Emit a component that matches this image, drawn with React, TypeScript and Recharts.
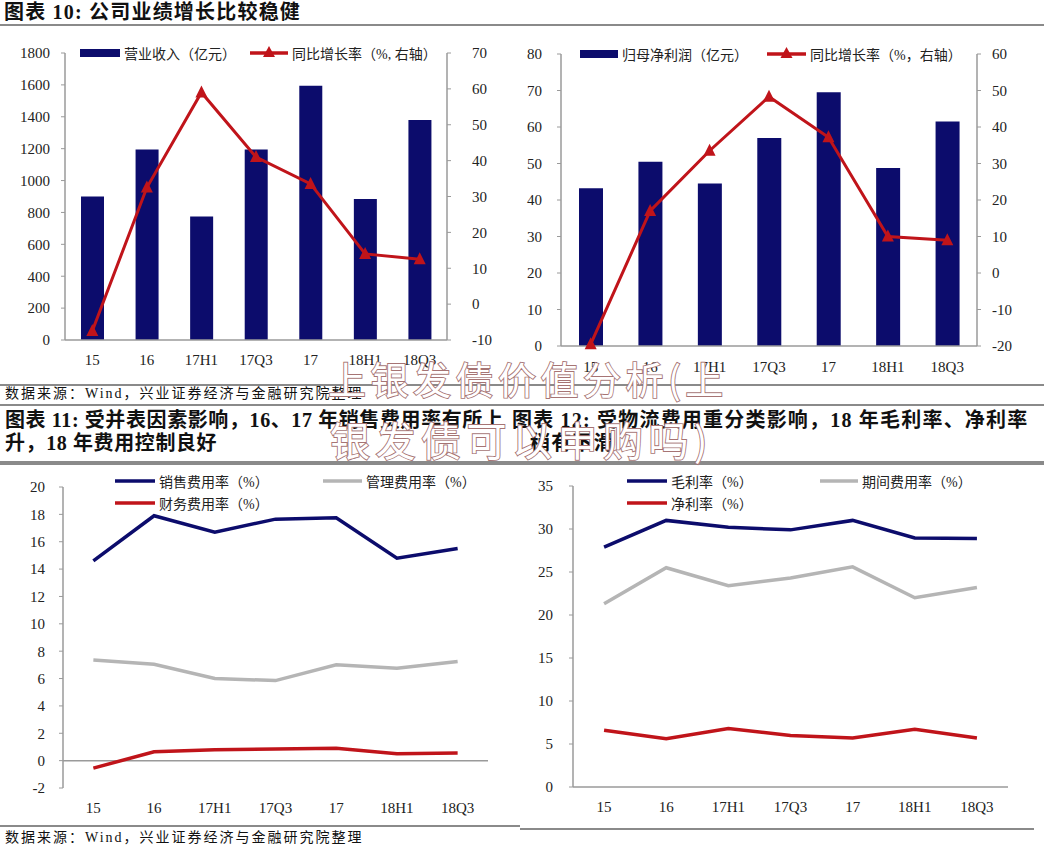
import React from 'react';
import {
  ComposedChart,
  Bar,
  Line,
  XAxis,
  YAxis,
  ReferenceLine,
} from 'recharts';

// categories
const periods = ['15', '16', '17H1', '17Q3', '17', '18H1', '18Q3'];

// 图表10 左: 营业收入 + 同比
const revenue = [900, 1195, 775, 1195, 1595, 885, 1380];
const revenueYoy = [-7.5, 32.5, 59, 41, 33.5, 14, 12.5];

// 图表10 右: 归母净利润 + 同比
const netProfit = [43.2, 50.5, 44.5, 57, 69.5, 48.8, 61.5];
const netProfitYoy = [-19.5, 17, 33.5, 48.3, 37.2, 10, 9];

// 图表11: 费用率
const sellingRate = [14.6, 17.9, 16.7, 17.65, 17.75, 14.8, 15.5];
const adminRate = [7.35, 7.05, 6.0, 5.85, 7.0, 6.75, 7.25];
const financeRate = [-0.55, 0.65, 0.8, 0.85, 0.9, 0.5, 0.55];

// 图表12: 利润率
const grossMargin = [27.9, 31.0, 30.2, 29.9, 31.0, 28.95, 28.9];
const periodExpenseRate = [21.3, 25.5, 23.4, 24.3, 25.6, 22.0, 23.2];
const netMargin = [6.6, 5.6, 6.8, 6.0, 5.7, 6.7, 5.7];

// tick labels
const revenueTicks = [0, 200, 400, 600, 800, 1000, 1200, 1400, 1600, 1800];
const revenueYoyTicks = [-10, 0, 10, 20, 30, 40, 50, 60, 70];
const profitTicks = [0, 10, 20, 30, 40, 50, 60, 70, 80];
const profitYoyTicks = [-20, -10, 0, 10, 20, 30, 40, 50, 60];
const expenseTicks = [-2, 0, 2, 4, 6, 8, 10, 12, 14, 16, 18, 20];
const marginTicks = [0, 5, 10, 15, 20, 25, 30, 35];
const bandEdges = [0, 1, 2, 3, 4, 5, 6, 7];

const NAVY = '#0c0c6c';
const RED = '#c0141a';
const GRAY = '#b5b5b5';
const AXIS = '#9a9a9a';
const RULE = '#8a8a8a';
const FONT = "'Liberation Serif', 'Noto Sans CJK SC', serif";
const tickStyle = { fontSize: 15, fill: '#222', fontFamily: FONT };

const revData = periods.map((p, i) => ({ period: p, revenue: revenue[i], yoy: revenueYoy[i] }));
const profitData = periods.map((p, i) => ({ period: p, profit: netProfit[i], yoy: netProfitYoy[i] }));
const expenseData = periods.map((p, i) => ({
  period: p,
  selling: sellingRate[i],
  admin: adminRate[i],
  finance: financeRate[i],
}));
const marginData = periods.map((p, i) => ({
  period: p,
  gross: grossMargin[i],
  expense: periodExpenseRate[i],
  net: netMargin[i],
}));

const Triangle = (props: any) => {
  const { cx, cy, index } = props;
  if (cx == null || cy == null) return null;
  return (
    <polygon
      key={`tri-${index}`}
      points={`${cx},${cy - 7} ${cx - 6},${cy + 5} ${cx + 6},${cy + 5}`}
      fill={RED}
    />
  );
};

function LegendItem({ x, y, kind, color, label, width = 40 }: any) {
  return (
    <div style={{ position: 'absolute', left: x, top: y - 10, height: 20, display: 'flex', alignItems: 'center' }}>
      <svg width={width} height={20} style={{ display: 'block' }}>
        {kind === 'bar' && <rect x={0} y={6} width={width} height={8} fill={NAVY} />}
        {kind !== 'bar' && <line x1={0} y1={10} x2={width} y2={10} stroke={color} strokeWidth={3.5} />}
        {kind === 'tri' && (
          <polygon points={`${width / 2},3 ${width / 2 - 6},14 ${width / 2 + 6},14`} fill={RED} />
        )}
      </svg>
      <span style={{ marginLeft: 4, fontSize: 14, color: '#222', fontFamily: FONT, whiteSpace: 'nowrap' }}>{label}</span>
    </div>
  );
}

function Rule({ top, left = 0, width = 1044 }: any) {
  return <div style={{ position: 'absolute', top, left, width, height: 2, background: RULE }} />;
}

function Text({ x, y, size, bold, children, spacing = 0 }: any) {
  return (
    <div
      style={{
        position: 'absolute',
        left: x,
        top: y - size * 0.7,
        fontSize: size,
        lineHeight: `${size * 1.4}px`,
        fontWeight: bold ? 700 : 400,
        letterSpacing: spacing,
        color: '#111',
        fontFamily: FONT,
        whiteSpace: 'nowrap',
      }}
    >
      {children}
    </div>
  );
}

// small ticks between categories, pointing up into the plot
const edgeAxis = (
  <XAxis
    xAxisId="edge"
    type="number"
    domain={[0, 7]}
    allowDataOverflow
    ticks={bandEdges}
    tick={false}
    mirror
    tickSize={5}
    tickLine={{ stroke: AXIS }}
    axisLine={false}
    height={1}
  />
);

export default function App() {
  return (
    <div style={{ position: 'absolute', left: 0, top: 0, width: 1044, height: 854, background: '#fff', overflow: 'hidden' }}>
      <Text x={4} y={12} size={20} bold spacing={1.2}>图表 10: 公司业绩增长比较稳健</Text>
      <Rule top={24} />

      {/* 图表10 左 */}
      <div style={{ position: 'absolute', left: 0, top: 30 }}>
        <ComposedChart width={520} height={360} data={revData} margin={{ top: 23, right: 28, left: 10, bottom: 49 }}>
          <XAxis xAxisId="cat" dataKey="period" height={1} interval={0} tickSize={0} tickMargin={14} tick={tickStyle} axisLine={{ stroke: AXIS, strokeWidth: 1.5 }} tickLine={false} />
          {edgeAxis}
          <YAxis yAxisId="left" domain={[0, 1800]} ticks={revenueTicks} width={55} tickSize={4} tickMargin={11} tick={tickStyle} axisLine={{ stroke: AXIS, strokeWidth: 1.5 }} tickLine={{ stroke: AXIS }} />
          <YAxis yAxisId="right" orientation="right" domain={[-10, 70]} ticks={revenueYoyTicks} width={45} tickSize={4} tickMargin={21} tick={tickStyle} axisLine={{ stroke: AXIS, strokeWidth: 1.5 }} tickLine={{ stroke: AXIS }} />
          <Bar xAxisId="cat" yAxisId="left" dataKey="revenue" fill={NAVY} barSize={23} isAnimationActive={false} />
          <Line xAxisId="cat" yAxisId="right" dataKey="yoy" stroke={RED} strokeWidth={3} dot={Triangle} isAnimationActive={false} />
        </ComposedChart>
      </div>
      <LegendItem x={80} y={53} kind="bar" label="营业收入（亿元）" />
      <LegendItem x={250} y={53} kind="tri" color={RED} width={38} label="同比增长率（%, 右轴）" />

      {/* 图表10 右 */}
      <div style={{ position: 'absolute', left: 520, top: 30 }}>
        <ComposedChart width={524} height={360} data={profitData} margin={{ top: 24, right: 22, left: 6, bottom: 43 }}>
          <XAxis xAxisId="cat" dataKey="period" height={1} interval={0} tickSize={0} tickMargin={15} tick={tickStyle} axisLine={{ stroke: AXIS, strokeWidth: 1.5 }} tickLine={false} />
          {edgeAxis}
          <YAxis yAxisId="left" domain={[0, 80]} ticks={profitTicks} width={35} tickSize={4} tickMargin={15} tick={tickStyle} axisLine={{ stroke: AXIS, strokeWidth: 1.5 }} tickLine={{ stroke: AXIS }} />
          <YAxis yAxisId="right" orientation="right" domain={[-20, 60]} ticks={profitYoyTicks} width={45} tickSize={4} tickMargin={11} tick={tickStyle} axisLine={{ stroke: AXIS, strokeWidth: 1.5 }} tickLine={{ stroke: AXIS }} />
          <Bar xAxisId="cat" yAxisId="left" dataKey="profit" fill={NAVY} barSize={24} isAnimationActive={false} />
          <Line xAxisId="cat" yAxisId="right" dataKey="yoy" stroke={RED} strokeWidth={3} dot={Triangle} isAnimationActive={false} />
        </ComposedChart>
      </div>
      <LegendItem x={580} y={54} kind="bar" width={38} label="归母净利润（亿元）" />
      <LegendItem x={767} y={54} kind="tri" color={RED} width={39} label="同比增长率（%，右轴）" />

      <Rule top={384} />
      <Text x={5} y={394} size={14} spacing={2}>数据来源：Wind，兴业证券经济与金融研究院整理</Text>
      <Rule top={404} />
      <Text x={5} y={420} size={20} bold spacing={0.6}>图表 11: 受并表因素影响，16、17 年销售费用率有所上</Text>
      <Text x={5} y={443} size={20} bold spacing={0.6}>升，18 年费用控制良好</Text>
      <Text x={512} y={420} size={20} bold spacing={1.2}>图表 12: 受物流费用重分类影响，18 年毛利率、净利率</Text>
      <Text x={530} y={443} size={20} bold spacing={1.2}>稍有下滑</Text>
      <Rule top={461} />
      <Rule top={463} />

      {/* 图表11 */}
      <div style={{ position: 'absolute', left: 0, top: 462 }}>
        <ComposedChart width={520} height={362} data={expenseData} margin={{ top: 25, right: 32, left: 15, bottom: 35 }}>
          <XAxis dataKey="period" scale="band" height={1} interval={0} tickSize={0} tickMargin={14} tick={tickStyle} axisLine={false} tickLine={false} />
          <YAxis domain={[-2, 20]} ticks={expenseTicks} width={48} tickSize={4} tickMargin={14} tick={tickStyle} axisLine={{ stroke: AXIS, strokeWidth: 1.5 }} tickLine={{ stroke: AXIS }} />
          <ReferenceLine y={0} stroke={AXIS} strokeWidth={1.5} />
          <Line dataKey="selling" stroke={NAVY} strokeWidth={3.5} dot={false} isAnimationActive={false} />
          <Line dataKey="admin" stroke={GRAY} strokeWidth={3.5} dot={false} isAnimationActive={false} />
          <Line dataKey="finance" stroke={RED} strokeWidth={3.5} dot={false} isAnimationActive={false} />
        </ComposedChart>
      </div>
      <LegendItem x={115} y={481} kind="line" color={NAVY} label="销售费用率（%）" />
      <LegendItem x={323} y={481} kind="line" color={GRAY} width={39} label="管理费用率（%）" />
      <LegendItem x={115} y={503} kind="line" color={RED} label="财务费用率（%）" />

      {/* 图表12 */}
      <div style={{ position: 'absolute', left: 520, top: 462 }}>
        <ComposedChart width={524} height={362} data={marginData} margin={{ top: 24, right: 36, left: 8, bottom: 36 }}>
          <XAxis xAxisId="cat" dataKey="period" scale="band" height={1} interval={0} tickSize={0} tickMargin={14} tick={tickStyle} axisLine={{ stroke: AXIS, strokeWidth: 1.5 }} tickLine={false} />
          {edgeAxis}
          <YAxis domain={[0, 35]} ticks={marginTicks} width={45} tickSize={4} tickMargin={16} tick={tickStyle} axisLine={{ stroke: AXIS, strokeWidth: 1.5 }} tickLine={{ stroke: AXIS }} />
          <Line xAxisId="cat" dataKey="gross" stroke={NAVY} strokeWidth={3.5} dot={false} isAnimationActive={false} />
          <Line xAxisId="cat" dataKey="expense" stroke={GRAY} strokeWidth={3.5} dot={false} isAnimationActive={false} />
          <Line xAxisId="cat" dataKey="net" stroke={RED} strokeWidth={3.5} dot={false} isAnimationActive={false} />
        </ComposedChart>
      </div>
      <LegendItem x={627} y={481} kind="line" color={NAVY} label="毛利率（%）" />
      <LegendItem x={820} y={481} kind="line" color={GRAY} width={38} label="期间费用率（%）" />
      <LegendItem x={627} y={503} kind="line" color={RED} label="净利率（%）" />

      <Rule top={825} width={520} />
      <Rule top={828} left={520} width={514} />
      <Text x={5} y={838} size={14} spacing={2}>数据来源：Wind，兴业证券经济与金融研究院整理</Text>

      {/* 水印 */}
      <svg width={1044} height={854} style={{ position: 'absolute', left: 0, top: 0, pointerEvents: 'none' }}>
        <text x={328} y={394} fontSize={38} letterSpacing={4.5} fontFamily="'Noto Sans CJK SC', sans-serif" fill="#fff" stroke="#a67474" strokeWidth={1.8} style={{ paintOrder: 'stroke' }}>
          上银发债价值分析(上
        </text>
        <text x={330} y={456} fontSize={40} letterSpacing={5.5} fontFamily="'Noto Sans CJK SC', sans-serif" fill="#fff" stroke="#a67474" strokeWidth={1.8} style={{ paintOrder: 'stroke' }}>
          银发债可以申购吗)
        </text>
      </svg>
    </div>
  );
}
